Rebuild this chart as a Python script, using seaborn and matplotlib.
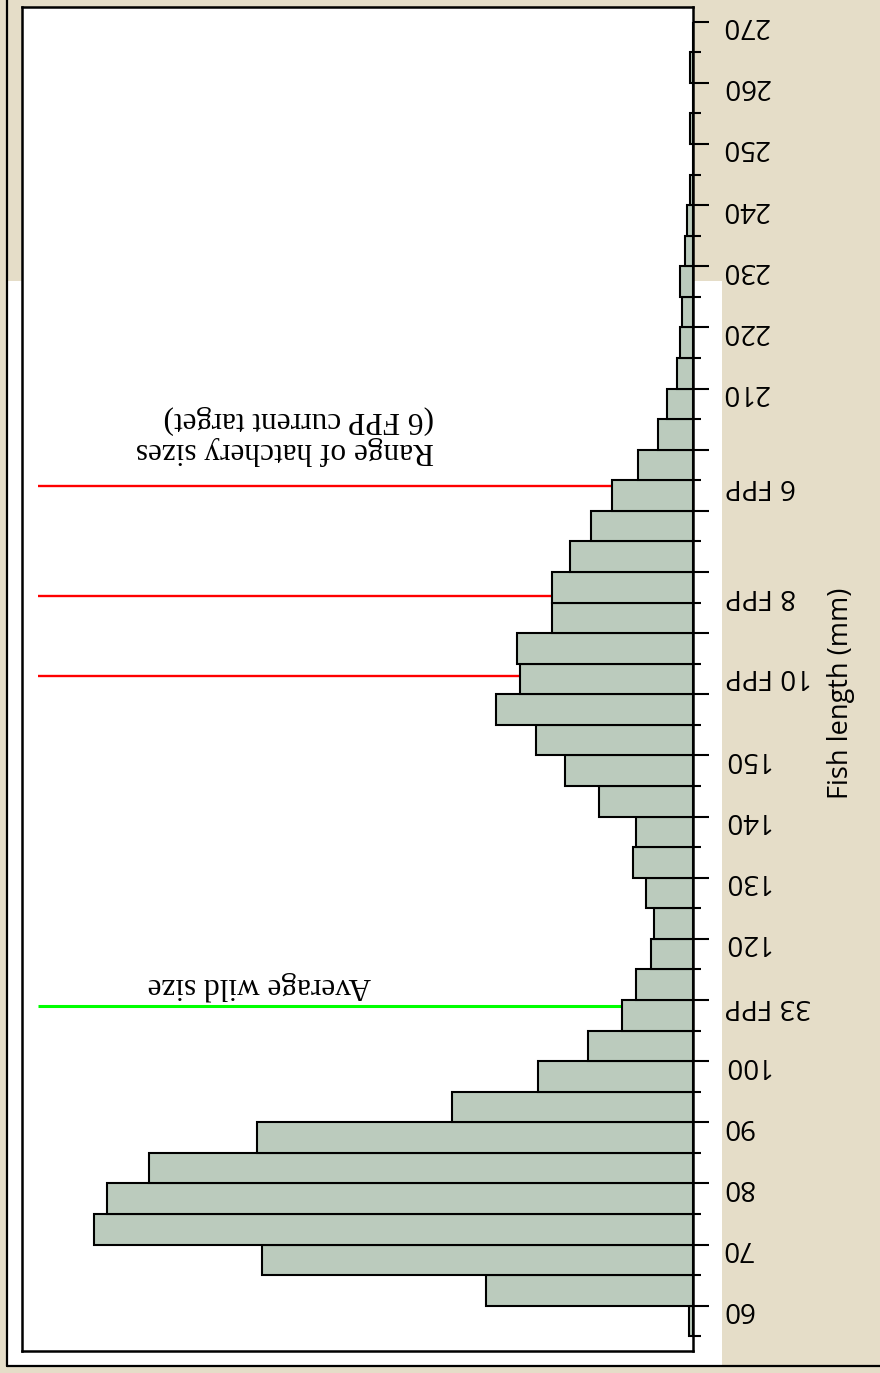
import numpy as np
import pandas as pd
import seaborn as sns
import matplotlib.pyplot as plt
from matplotlib.patches import Rectangle
from matplotlib.lines import Line2D
from matplotlib.transforms import blended_transform_factory

# histogram bins (fish length, mm) and relative counts
bin_start = [55, 60, 65, 70, 75, 80, 85, 90, 95, 100, 105, 110, 115, 120, 125,
             130, 135, 140, 145, 150, 155, 160, 165, 170, 175, 180, 185, 190,
             195, 200, 205, 210, 215, 220, 225, 230, 235, 240, 245, 250, 255,
             260, 265]
fish_count = [4, 207, 431, 599, 586, 544, 436, 241, 155, 105, 71, 57, 42, 39, 47,
              60, 57, 94, 128, 157, 197, 173, 176, 141, 141, 123, 102, 81,
              55, 35, 26, 16, 13, 11, 13, 8, 6, 3, 0, 3, 0,
              3, 0]
bin_width = 5

# fish-per-pound reference sizes
fpp_names = ['33 FPP', '10 FPP', '8 FPP', '6 FPP']
fpp_length = [109, 163, 176, 194]
fpp_colors = ['#00ff00', '#ff0000', '#ff0000', '#ff0000']

# numbered ticks (blank ones sit under the FPP labels)
tick_values = [60, 70, 80, 90, 100, 110, 120, 130, 140, 150, 160, 170, 180,
               190, 200, 210, 220, 230, 240, 250, 260, 270]
tick_labels = ['60', '70', '80', '90', '100', '', '120', '130', '140', '150',
               '', '', '', '', '', '210', '220', '230', '240', '250', '260', '270']

df = pd.DataFrame({'length': [b + bin_width / 2 for b in bin_start],
                   'count': fish_count})
edges = bin_start + [bin_start[-1] + bin_width]

sns.set_style('ticks')
plt.rcParams['font.family'] = ['Open Sans', 'DejaVu Sans']
plt.rcParams['text.color'] = 'black'
plt.rcParams['axes.labelcolor'] = 'black'

W, H = 880, 1373
fig = plt.figure(figsize=(W / 100, H / 100), dpi=100, facecolor='#e5ddc8')

# white slide area and outer frame (behind the axes)
fig.patches.append(Rectangle((7 / W, 1 - 1366 / H), 715 / W, 1085 / H,
                             transform=fig.transFigure, facecolor='white',
                             edgecolor='none', zorder=-5))
fig.add_artist(Line2D([7 / W, 7 / W], [1 - 1366 / H, 1], color='black', lw=1.6,
                      zorder=-4))
fig.add_artist(Line2D([7 / W, 1], [1 - 1366 / H, 1 - 1366 / H], color='black',
                      lw=1.6, zorder=-4))

ax = fig.add_axes([22 / W, 1 - 1351 / H, 671 / W, 1344 / H])
ax.set_facecolor('white')

sns.histplot(data=df, y='length', weights='count', bins=edges,
             color='#bbcbbd', edgecolor='black', linewidth=1.5, alpha=1,
             ax=ax, zorder=3)

ax.set_xlim(671, 0)
ax.set_ylim(52.6, 272.4)
ax.set_xticks([])
ax.set_xlabel('')

# reference lines from the bar edge out to the left
for name, y, c in zip(fpp_names, fpp_length, fpp_colors):
    idx = [i for i, b in enumerate(bin_start) if b <= y < b + bin_width][0]
    ax.hlines(y, fish_count[idx], 655, color=c, lw=2.2 if c == '#00ff00' else 1.7,
              zorder=2)

ax.text(408, 202.4, 'Range of hatchery sizes\n(6 FPP current target)',
        rotation=180, ha='center', va='center', multialignment='left',
        family='Liberation Serif', fontsize=22.5, linespacing=1.1)
ax.text(434, 112.4, 'Average wild size', rotation=180, ha='center', va='center',
        family='Liberation Serif', fontsize=22.5)

# y axis on the right with upside-down labels
ax.yaxis.tick_right()
ax.set_yticks(tick_values)
ax.set_yticklabels(tick_labels)
ax.set_yticks([b for b in edges if b not in tick_values], minor=True)
ax.tick_params(axis='y', which='major', length=11.5, width=1.5, direction='out',
               pad=9, labelsize=20, labelrotation=180, colors='black')
ax.tick_params(axis='y', which='minor', length=5.8, width=1.5, direction='out',
               right=True, left=False, colors='black')
ax.tick_params(axis='y', left=False)

tr = blended_transform_factory(ax.transAxes, ax.transData)
for name, y in zip(fpp_names, fpp_length):
    ax.text(1 + 32 / 671, y, name, transform=tr, rotation=180, ha='left',
            va='center', fontsize=20, color='black')

ax.set_ylabel('Fish length (mm)', fontsize=19.5, rotation=90, color='black')
ax.yaxis.set_label_position('right')
ax.yaxis.set_label_coords(1.2, 0.489)

for s in ax.spines.values():
    s.set_visible(True)
    s.set_color('black')
    s.set_linewidth(1.8)

fig.savefig('out.png', dpi=100, facecolor=fig.get_facecolor())
